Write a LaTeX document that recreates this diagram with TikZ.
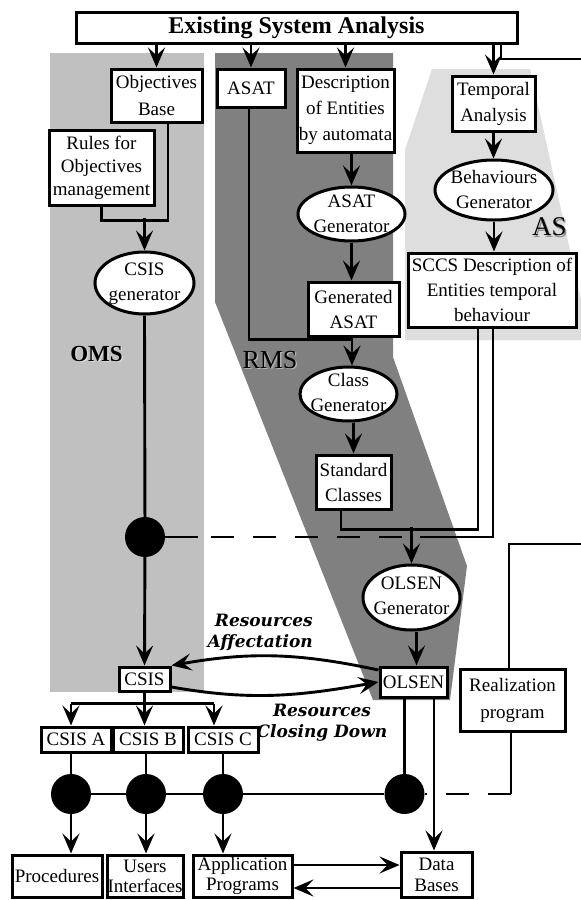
\documentclass[tikz,border=0pt]{standalone}
\usepackage{fontspec}
\setmainfont{Liberation Serif}
\newfontfamily\labfont{DejaVu Serif}
\usetikzlibrary{arrows.meta,shapes.geometric,calc}
\definecolor{omsgray}{RGB}{192,192,192}
\definecolor{rmsgray}{RGB}{128,128,128}
\definecolor{asgray}{RGB}{222,222,222}
\begin{document}
\begin{tikzpicture}[x=1pt,y=-1pt,
  bx/.style={draw,line width=3pt,fill=white,rectangle,inner sep=0pt,align=center,font=\fontsize{19}{25}\selectfont},
  el/.style={draw,line width=3pt,fill=white,ellipse,inner sep=0pt},
  tx/.style={inner sep=0pt,align=center,font=\fontsize{19}{25}\selectfont},
  ln/.style={line width=2.9pt},
  arr/.style={line width=2.9pt,-{Stealth[length=20pt,width=17pt,inset=8pt]}},
  blob/.style={circle,fill=black,minimum size=40pt,inner sep=0pt},
  dsh/.style={line width=2.9pt,dash pattern=on 23pt off 19pt},
  lab/.style={inner sep=0pt,font=\labfont\bfseries\itshape\fontsize{17}{21}\selectfont},
  reg/.style={inner sep=0pt},
]
\useasboundingbox (0,0) rectangle (581,900);
\fill[white] (0,0) rectangle (581,900);
% regions
\fill[omsgray] (50,53) rectangle (204,692);
\fill[rmsgray] (215,53) -- (393,53) -- (393,357) -- (467,566) -- (450,700) -- (373,700) -- (215,302) -- cycle;
\fill[asgray] (432,69) -- (530,69) -- (581,300) -- (581,340) -- (405,340) -- (405,150) -- cycle;
% region labels
\node[reg,font=\bfseries\fontsize{23}{23}\selectfont,text=white!85!black] (omsS) at (98,355) {OMS};
\node[reg,font=\bfseries\fontsize{23}{23}\selectfont,text=black] (oms) at (96.5,353.5) {OMS};
\node[reg,font=\fontsize{26}{26}\selectfont,text=white!70!black] (rmsS) at (271.5,361.5) {RMS};
\node[reg,font=\fontsize{26}{26}\selectfont,text=black] (rms) at (270,360) {RMS};
\node[reg,font=\fontsize{27}{27}\selectfont,text=white!55!black] (asS) at (551,228.5) {AS};
\node[reg,font=\fontsize{27}{27}\selectfont,text=black] (as) at (549.5,227) {AS};

% nodes
\node[bx,minimum width=441pt,minimum height=31pt,font=\bfseries\fontsize{24}{27}\selectfont] (title) at (296.5,27.5) {Existing System Analysis};
\node[bx,minimum width=91pt,minimum height=53pt,font=\fontsize{19}{27}\selectfont] (objb) at (156.5,95.5) {Objectives\\Base};
\node[bx,minimum width=105pt,minimum height=75pt,font=\fontsize{19}{23}\selectfont] (rules) at (101.5,167.5) {Rules for\\Objectives\\management};
\node[el,minimum width=99pt,minimum height=62pt] (csisgen) at (144.5,283) {};
\node[tx] (csisgenT) at (144.5,284) {CSIS\\generator};
\node[bx,minimum width=68pt,minimum height=38pt] (asat) at (251,88) {ASAT};
\node[bx,minimum width=97pt,minimum height=83pt,font=\fontsize{19}{26}\selectfont] (desc) at (345.5,110.5) {Description\\of Entities\\by automata};
\node[el,minimum width=107pt,minimum height=54pt] (asatgen) at (351.5,214) {};
\node[tx] (asatgenT) at (351.5,214) {ASAT\\Generator};
\node[bx,minimum width=91pt,minimum height=54pt] (genasat) at (353.5,309) {Generated\\ASAT};
\node[el,minimum width=97pt,minimum height=54pt] (classgen) at (348.5,394) {};
\node[tx] (classgenT) at (348.5,392) {Class\\Generator};
\node[bx,minimum width=75pt,minimum height=54pt] (stdcls) at (353.5,482) {Standard\\Classes};
\node[el,minimum width=97pt,minimum height=65pt] (olsengen) at (411.5,597.5) {};
\node[tx] (olsengenT) at (411.5,596) {OLSEN\\Generator};
\node[bx,minimum width=67pt,minimum height=30pt] (olsen) at (413.5,682) {OLSEN};
\node[bx,minimum width=51pt,minimum height=24pt] (csis) at (144.5,679) {CSIS};
\node[bx,minimum width=70pt,minimum height=25pt] (csisa) at (76,739.5) {CSIS A};
\node[bx,minimum width=70pt,minimum height=25pt] (csisb) at (148,739.5) {CSIS B};
\node[bx,minimum width=70pt,minimum height=25pt] (csisc) at (223,739.5) {CSIS C};
\node[bx,minimum width=90pt,minimum height=42pt] (proc) at (57,876) {Procedures};
\node[bx,minimum width=76pt,minimum height=42pt,font=\fontsize{19}{20}\selectfont] (users) at (145,876) {Users\\Interfaces};
\node[bx,minimum width=99pt,minimum height=42pt,font=\fontsize{19}{20}\selectfont] (app) at (242.5,876) {Application\\Programs};
\node[bx,minimum width=71pt,minimum height=45pt,font=\fontsize{19}{21}\selectfont] (db) at (436.5,874.5) {Data\\Bases};
\node[bx,minimum width=105pt,minimum height=62pt,font=\fontsize{19}{27}\selectfont] (real) at (512.5,700) {Realization\\program};
\node[bx,minimum width=83pt,minimum height=55pt,font=\fontsize{19}{26}\selectfont] (temporal) at (493.5,103.5) {Temporal\\Analysis};
\node[el,minimum width=118pt,minimum height=60pt] (behgen) at (494,190) {};
\node[tx] (behgenT) at (494,189) {Behaviours\\Generator};
\node[bx,minimum width=168pt,minimum height=74pt] (sccs) at (492,290) {SCCS Description of\\Entities temporal\\behaviour};

\node[blob] (d1) at (145,537) {};
\node[blob] (b1) at (71,794) {};
\node[blob] (b2) at (146,794) {};
\node[blob] (b3) at (223,794) {};
\node[blob] (b4) at (404.5,794) {};

\coordinate (e1) at (581,59);
\coordinate (e2) at (581,544);

% labels
\node[lab,align=right,anchor=east] (resaff) at (313,632) {Resources\\Affectation};
\node[lab,align=center] (rescd) at (322,723) {Resources\\Closing Down};

% connectors from title
\draw[arr] (title.south -| objb.north) -- (objb.north);
\draw[arr] (title.south -| asat.north) -- (asat.north);
\draw[arr] (title.south -| desc.north) -- (desc.north);
\draw[arr] (title.south -| temporal.north) -- (temporal.north);
\draw[ln] ($(title.south)+(204.5,0)$) |- (e1);

% OMS chain
\draw[ln] ([xshift=11.5pt]objb.south) -- ++(0,97) -| (rules.south);
\draw[arr] ($(csisgen.north)+(0,-33)$) -- (csisgen.north);
\draw[ln] (csisgen.south) -- (d1);
\draw[arr] (d1) -- (csis.north);
\draw[ln] (d1.east) -- ++(33,0);
\draw[dsh] ($(d1.east)+(46,0)$) -- ($(olsengen.north |- d1)+(-7,0)$);

% RMS chain
\draw[ln] ([xshift=-2pt]asat.south) |- ($(classgen.north)+(3.5,-26)$);
\draw[ln] ([xshift=-1.5pt]genasat.south) -- ++(0,5);
\draw[arr] ($(classgen.north)+(3.5,-26)$) -- ([xshift=3.5pt]classgen.north);
\draw[arr] (asatgen.north |- desc.south) -- (asatgen.north);
\draw[arr] (asatgen.south) -- (asatgen.south |- genasat.north);
\draw[arr] (stdcls.north |- classgen.south) -- (stdcls.north);
\draw[ln] ([xshift=-12.5pt]stdcls.south) -- ++(0,19) -| ([xshift=-14pt]sccs.south);
\draw[ln] ([xshift=1pt]sccs.south) |- ($(olsengen.north |- d1)+(8,0)$);
\draw[arr] ($(olsengen.north)+(0,-37)$) -- (olsengen.north);
\draw[arr] ([xshift=5pt]olsengen.south) -- ([xshift=3pt]olsen.north);

% AS chain
\draw[arr] (temporal.south) -- (temporal.south |- behgen.north);
\draw[arr] (behgen.south) -- (behgen.south |- sccs.north);

% resources arcs
\draw[arr] ([yshift=12pt]olsen.west) to[out=168,in=10] (csis.north east);
\draw[arr] ([yshift=-8pt]csis.east) to[out=-10,in=190] (olsen.west);

% CSIS distribution
\draw[ln] (csis.south) -- ++(0,11) coordinate (cj);
\draw[ln] (cj -| b1) -- ($(cj -| csisc.north)+(-9,0)$);
\draw[arr] (cj -| b1) -- (csisa.north -| b1);
\draw[arr] (cj) -- (csisb.north -| cj);
\draw[arr] ($(cj -| csisc.north)+(-9,0)$) -- ([xshift=-9pt]csisc.north);
\draw[ln] (csisa.south -| b1) -- (b1);
\draw[ln] (csisb.south -| b2) -- (b2);
\draw[ln] (csisc.south -| b3) -- (b3);
\draw[ln] (b1) -- (b4);
\draw[ln] (olsen.south -| b4) -- (b4);
\draw[ln] ([xshift=-1.5pt]real.south) -- ([xshift=-1.5pt]real.south |- b4);
\draw[dsh] ([xshift=-1.5pt]real.south |- b4) -- (b4.east);
\draw[ln] ([xshift=-3.5pt]real.north) |- (e2);
\draw[arr] (b1) -- (proc.north -| b1);
\draw[arr] (b2) -- (users.north -| b2);
\draw[arr] (b3) -- (app.north -| b3);
\draw[arr] ([xshift=20.5pt]olsen.south) -- ([xshift=20.5pt]olsen.south |- db.north);
\draw[arr] ([yshift=11pt]app.east) -- ([yshift=11pt]app.east -| db.west);
\draw[arr] ([yshift=-12pt]app.east -| db.west) -- ([yshift=-12pt]app.east);
\end{tikzpicture}
\end{document}
